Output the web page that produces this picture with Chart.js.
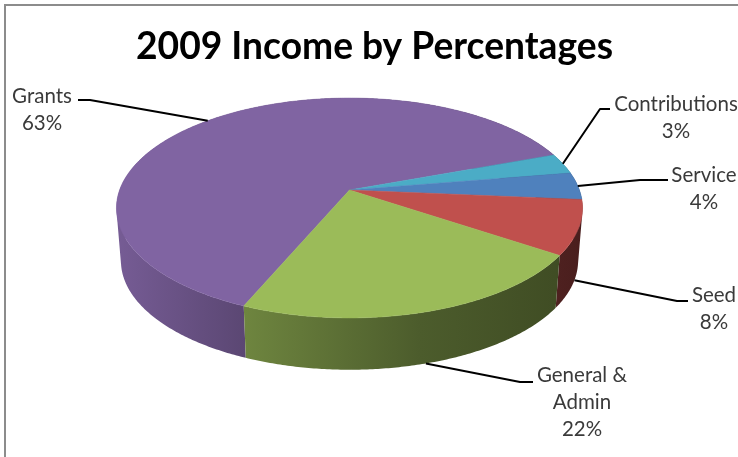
<!DOCTYPE html>
<html>
<head>
<meta charset="utf-8">
<title>2009 Income by Percentages</title>
<script src="https://cdn.jsdelivr.net/npm/chart.js@4"></script>
<style>
  html, body { margin: 0; padding: 0; background: #fff; overflow: hidden; }
  canvas { display: block; }
</style>
</head>
<body>
<canvas id="incomePie" width="738" height="457"></canvas>
<script>
const titleText = '2009 Income by Percentages';
const categories = ['Grants', 'Contributions', 'Service', 'Seed', 'General & Admin'];
const percentages = [63, 3, 4, 8, 22];
const sliceColors = ['#8064A2', '#4BACC6', '#4F81BD', '#C0504D', '#9BBB59'];

// label text wrapped like the original, one entry per category
const labelLines = [['Grants'], ['Contributions'], ['Service'], ['Seed'], ['General &', 'Admin']];
const labelCenterX = [42, 676, 704, 714, 582];
const labelTopY = [96, 104, 175, 295, 375];
const elbowX = [90, 600, 640, 677, 520];
const leaderEndX = [78, 610, 668, 688, 533];
const leaderEndY = [100, 109, 180, 301, 382];
const leaderOnBottomRim = [false, false, false, true, true];

// side wall shading from left to right of the pie
const shadeX = [116, 245, 420, 555, 582];
const shadeK = [0.92, 0.71, 0.49, 0.41, 0.38];

// perspective projection of the pie disc
const K = -0.1636;
const topRim = { cx: 349.5, cy: 190, a: 229.9, b: 107 };
const bottomRim = { cx: 349.5, cy: 243, a: 225.5, b: 106 };

function project(rim, angle) {
    const u = Math.cos(angle);
    const v = Math.sin(angle);
    const w = 1 + K * v;
    return { x: rim.cx + rim.a * u / w, y: rim.cy + rim.b * v / w };
}

function rimPoints(rim, start, end) {
    const steps = Math.max(2, Math.ceil((end - start) / 0.01));
    const pts = [];
    for (let i = 0; i <= steps; i++) {
        pts.push(project(rim, start + (end - start) * i / steps));
    }
    return pts;
}

function shade(hex, f) {
    const n = parseInt(hex.slice(1), 16);
    const r = Math.round((n >> 16 & 255) * f);
    const g = Math.round((n >> 8 & 255) * f);
    const b = Math.round((n & 255) * f);
    return `rgb(${r},${g},${b})`;
}

function tracePath(ctx, pts) {
    ctx.beginPath();
    pts.forEach((p, i) => i ? ctx.lineTo(p.x, p.y) : ctx.moveTo(p.x, p.y));
    ctx.closePath();
}

function signedArea(pts) {
    let sum = 0;
    pts.forEach((p, i) => {
        const q = pts[(i + 1) % pts.length];
        sum += p.x * q.y - q.x * p.y;
    });
    return sum;
}

const pie3d = {
    id: 'pie3d',
    beforeDraw(chart) {
        const ctx = chart.ctx;
        ctx.save();
        ctx.fillStyle = '#8c8c8c';
        ctx.fillRect(4, 4, chart.width - 4, 2);
        ctx.fillRect(4, 4, 2, chart.height - 4);
        ctx.restore();
    },
    // the slices come from the library's arcs, only the painting is replaced
    beforeDatasetsDraw(chart) {
        const ctx = chart.ctx;
        const arcs = chart.getDatasetMeta(0).data;
        ctx.save();

        const wallFill = color => {
            const g = ctx.createLinearGradient(shadeX[0], 0, shadeX[shadeX.length - 1], 0);
            shadeX.forEach((x, i) => {
                g.addColorStop((x - shadeX[0]) / (shadeX[shadeX.length - 1] - shadeX[0]), shade(color, shadeK[i]));
            });
            return g;
        };

        // wall is one path of same-winding quads, so the silhouette joins both rims without seams
        arcs.forEach((arc, i) => {
            const top = rimPoints(topRim, arc.startAngle, arc.endAngle);
            const bottom = rimPoints(bottomRim, arc.startAngle, arc.endAngle);
            ctx.beginPath();
            for (let n = 0; n < top.length - 1; n++) {
                let quad = [top[n], top[n + 1], bottom[n + 1], bottom[n]];
                if (signedArea(quad) < 0) quad = quad.reverse();
                quad.forEach((p, j) => j ? ctx.lineTo(p.x, p.y) : ctx.moveTo(p.x, p.y));
                ctx.closePath();
            }
            ctx.fillStyle = wallFill(sliceColors[i]);
            ctx.fill();
        });

        arcs.forEach((arc, i) => {
            const pts = rimPoints(topRim, arc.startAngle, arc.endAngle);
            pts.unshift({ x: topRim.cx, y: topRim.cy });
            tracePath(ctx, pts);
            ctx.fillStyle = sliceColors[i];
            ctx.fill();
            ctx.strokeStyle = sliceColors[i];
            ctx.lineWidth = 0.5;
            ctx.stroke();
        });

        ctx.restore();
        return false;
    },
    afterDraw(chart) {
        const ctx = chart.ctx;
        const arcs = chart.getDatasetMeta(0).data;
        ctx.save();
        ctx.strokeStyle = '#000';
        ctx.lineWidth = 2;
        ctx.lineJoin = 'round';
        ctx.font = '20.5px Lato';
        ctx.fillStyle = '#3a3a3a';
        ctx.textAlign = 'center';
        ctx.textBaseline = 'middle';
        arcs.forEach((arc, i) => {
            const mid = (arc.startAngle + arc.endAngle) / 2;
            const start = project(leaderOnBottomRim[i] ? bottomRim : topRim, mid);
            ctx.beginPath();
            ctx.moveTo(start.x, start.y);
            ctx.lineTo(elbowX[i], leaderEndY[i]);
            ctx.lineTo(leaderEndX[i], leaderEndY[i]);
            ctx.stroke();

            labelLines[i].concat(percentages[i] + '%').forEach((line, n) => {
                ctx.fillText(line, labelCenterX[i], labelTopY[i] + n * 27);
            });
        });
        ctx.restore();
    }
};

new Chart(document.getElementById('incomePie'), {
    type: 'pie',
    data: {
        labels: categories,
        datasets: [{
            data: percentages,
            backgroundColor: sliceColors,
            borderWidth: 0
        }]
    },
    options: {
        responsive: false,
        animation: false,
        rotation: 203,
        layout: { padding: { left: 11, top: 25 } },
        plugins: {
            legend: { display: false },
            tooltip: { enabled: false },
            title: {
                display: true,
                text: titleText,
                color: '#000',
                font: { family: 'Lato', size: 37.2, weight: 'bold' },
                padding: { top: 0, bottom: 0 }
            }
        }
    },
    plugins: [pie3d]
});
</script>
</body>
</html>
